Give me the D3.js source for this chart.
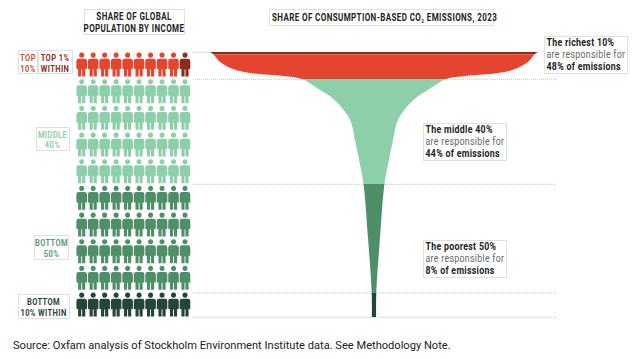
<!DOCTYPE html>
<html>
<head>
<meta charset="utf-8">
<script src="https://cdn.jsdelivr.net/npm/d3@7"></script>
<style>
  html, body { margin: 0; padding: 0; background: #fff; }
  svg { display: block; }
  .cond { font-family: "Roboto", sans-serif; font-weight: 700; letter-spacing: 0.5px; }
  .note { font-family: "Roboto", sans-serif; font-size: 10.5px; letter-spacing: 0.35px; }
</style>
</head>
<body>
<div id="chart"></div>
<script>
// DATA
// population percentile (0 = richest) and half width of the funnel, % of the widest point
const funnelPct = [0, 0.8, 3.6, 6.3, 7.8, 8.9, 10, 13.4, 18, 25.6, 33.2, 40.9, 50, 69.5, 90, 100];
const funnelWidth = [100, 98, 94, 86, 75.6, 55.5, 44, 34.8, 24, 14.6, 11.6, 9.1, 6.4, 3.7, 1.4, 1.3];

const groupNames = ["top1", "top10", "middle", "bottom", "bottom10"];
const groupStart = [0, 0.8, 10, 50, 90];
const groupEnd = [0.8, 10, 50, 90, 100];
const groupColors = ["#8f2b1b", "#e5442e", "#8dcfa9", "#4f8f68", "#24463a"];

const rows = [0, 1, 2, 3, 4, 5, 6, 7, 8, 9];
const cols = [0, 1, 2, 3, 4, 5, 6, 7, 8, 9];
const rowGroup = ["top10", "middle", "middle", "middle", "middle", "bottom", "bottom", "bottom", "bottom", "bottom10"];

const guidePcts = [0, 10, 50, 90, 100];

const drawChart = () => {

  // DIMENSIONS
  const width = 640;
  const height = 359;

  const svg = d3.select("#chart")
    .append("svg")
      .attr("width", width)
      .attr("height", height)
      .attr("viewBox", [0, 0, width, height]);

  // SCALES
  const yScale = d3.scaleLinear().domain([0, 10, 50, 90, 100]).range([52, 79, 184, 292.7, 317]);
  const wScale = d3.scaleLinear().domain([0, 100]).range([0, 164]);
  const centerX = 374;
  const colorScale = d3.scaleOrdinal().domain(groupNames).range(groupColors);
  const colScale = d3.scalePoint().domain(cols).range([81.7, 185]);
  const rowScale = d3.scalePoint().domain(rows).range([52.5, 292.5]);

  // GUIDE LINES
  const guides = svg.append("g").attr("id", "guides");
  guides.selectAll("line")
    .data(guidePcts)
    .join("line")
      .attr("x1", 193)
      .attr("x2", d => d === 0 ? 210 : 556)
      .attr("y1", d => yScale(d) + 0.3)
      .attr("y2", d => yScale(d) + 0.3)
      .attr("stroke", "#c4c4c4")
      .attr("stroke-width", 1)
      .attr("stroke-dasharray", "1 1");

  // FUNNEL
  const funnelPoints = funnelPct.map((p, i) => ({p: p, w: funnelWidth[i]}));
  const areaGen = d3.area()
    .y(d => yScale(d.p))
    .x0(d => centerX - wScale(d.w))
    .x1(d => centerX + wScale(d.w))
    .curve(d3.curveCatmullRom.alpha(0.5));

  const defs = svg.append("defs");
  groupNames.forEach((g, i) => {
    defs.append("clipPath")
      .attr("id", `clip-${g}`)
      .append("rect")
        .attr("x", 0)
        .attr("width", width)
        .attr("y", yScale(groupStart[i]))
        .attr("height", yScale(groupEnd[i]) - yScale(groupStart[i]));
  });

  svg.append("g")
    .attr("id", "funnel")
    .selectAll("path")
    .data(groupNames)
    .join("path")
      .attr("d", areaGen(funnelPoints))
      .attr("fill", d => colorScale(d))
      .attr("clip-path", d => `url(#clip-${d})`);

  // PEOPLE
  const personPath = "M0,0a2.6,2.6 0 1,0 0.01,0Z" +
    "M-3,6.2H3Q5.3,6.2 5.3,8.6V15.8Q5.3,16.8 4.4,16.8Q3.6,16.8 3.6,15.8V24" +
    "H0.45V17H-0.45V24H-3.6V15.8Q-3.6,16.8 -4.4,16.8Q-5.3,16.8 -5.3,15.8V8.6Q-5.3,6.2 -3,6.2Z";

  const people = rows.flatMap(r => cols.map(c => ({r: r, c: c})));
  svg.append("g")
    .attr("id", "people")
    .selectAll("path")
    .data(people)
    .join("path")
      .attr("d", personPath)
      .attr("transform", d => `translate(${colScale(d.c)}, ${rowScale(d.r)})`)
      .attr("fill", d => d.r === 0 && d.c === 9 ? colorScale("top1") : colorScale(rowGroup[d.r]));

  // LABEL BOXES
  const condStretch = 0.8; // no condensed face installed, so squeeze the text horizontally

  const addBox = (x, y, w, h) => svg.append("rect")
    .attr("x", x + 0.5).attr("y", y + 0.5)
    .attr("width", w).attr("height", h)
    .attr("fill", "none")
    .attr("stroke", "#b0b0b0")
    .attr("stroke-width", 0.8)
    .attr("stroke-dasharray", "1 1");

  const addCondLabel = (lines, cx, ys, color, size) => {
    lines.forEach((t, i) => {
      svg.append("text")
        .attr("class", "cond")
        .attr("transform", `translate(${cx}, ${ys[i]}) scale(${condStretch}, 1)`)
        .attr("text-anchor", "middle")
        .attr("font-size", size)
        .attr("fill", color)
        .text(t);
    });
  };

  addBox(84, 9, 100, 25);
  addCondLabel(["SHARE OF GLOBAL", "POPULATION BY INCOME"], 134, [20, 32], "#222", 10);

  addBox(269, 9, 224, 16);
  const title = svg.append("text")
    .attr("class", "cond")
    .attr("transform", `translate(272, 20.5) scale(${condStretch}, 1)`)
    .attr("font-size", 10)
    .attr("fill", "#222");
  title.append("tspan").text("SHARE OF CONSUMPTION-BASED CO");
  title.append("tspan").attr("font-size", 6).attr("dy", 2).text("2");
  title.append("tspan").attr("dy", -2).text(" EMISSIONS, 2023");

  addBox(18, 50, 19, 23);
  addCondLabel(["TOP", "10%"], 28, [61, 71.5], "#c9523f", 9.4);
  addBox(38, 50, 34, 23);
  addCondLabel(["TOP 1%", "WITHIN"], 55, [61, 71.5], "#8f2b1b", 9.4);

  addBox(36, 127, 33, 23);
  addCondLabel(["MIDDLE", "40%"], 52.5, [137.5, 148], "#8dcfa9", 9.4);

  addBox(34, 235, 34, 24);
  addCondLabel(["BOTTOM", "50%"], 51.5, [245.5, 256.5], "#5d9a75", 9.4);

  addBox(18, 294, 51, 24);
  addCondLabel(["BOTTOM", "10% WITHIN"], 43.5, [304.5, 315.5], "#24463a", 9.4);

  // CALLOUTS
  const addNote = (x, y, w, head, foot) => {
    addBox(x, y, w, 37);
    const lines = [head, "are responsible for", foot];
    lines.forEach((t, i) => {
      svg.append("text")
        .attr("class", "note")
        .attr("transform", `translate(${x + 2.5}, ${y + 10 + i * 12}) scale(0.84, 1)`)
        .attr("font-weight", i === 1 ? 400 : 700)
        .attr("fill", i === 1 ? "#666" : "#222")
        .text(t);
    });
  };

  addNote(544, 36, 83, "The richest 10%", "48% of emissions");
  addNote(423, 123, 83, "The middle 40%", "44% of emissions");
  addNote(423, 240, 83, "The poorest 50%", "8% of emissions");

  // SOURCE
  svg.append("text")
    .attr("x", 13)
    .attr("y", 349)
    .attr("font-family", "Roboto, sans-serif")
    .attr("font-size", 11.1)
    .attr("fill", "#1a1a1a")
    .text("Source: Oxfam analysis of Stockholm Environment Institute data. See Methodology Note.");
};

drawChart();
</script>
</body>
</html>
